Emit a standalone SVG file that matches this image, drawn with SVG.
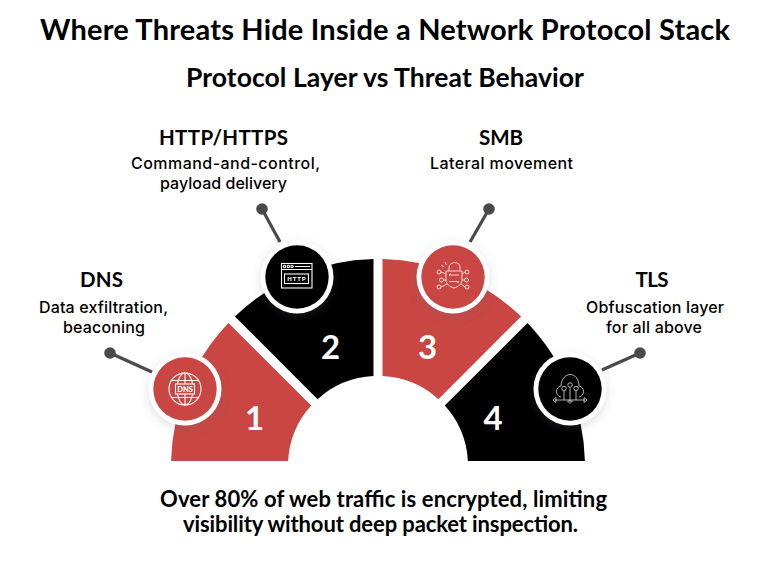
<svg xmlns="http://www.w3.org/2000/svg" width="768" height="568" viewBox="0 0 768 568">
<style>
text{font-family:"Lato","Liberation Sans",sans-serif;fill:#000;text-anchor:middle}
.title{font-size:29px;font-weight:700}
.sub{font-size:26.500px;font-weight:700}
.head{font-size:20.500px;font-weight:700}
.desc{font-family:"Inter","Lato",sans-serif;font-size:16px;font-weight:500}
.foot{font-size:22px;font-weight:700}
.num{font-size:33px;font-weight:700;fill:#fff}
.red{fill:#c94642}
.blk{fill:#000}
.ring{fill:#fff;filter:url(#sh)}
.ico{fill:none;stroke:#fff;stroke-width:1.100}
.ico2{fill:none;stroke:#f4e6e4;stroke-width:.9}
.ico3{fill:none;stroke:#ddd;stroke-width:.8}
.itx{font-size:7px;font-weight:900;fill:#fff}
#connectors line{stroke:#4a4a4a;stroke-width:3.200}
#connectors circle{fill:#4a4a4a}
</style>
<defs>
<filter id="sh" x="-30%" y="-30%" width="160%" height="160%"><feDropShadow dx="0" dy="3" stdDeviation="5" flood-color="#5a6a80" flood-opacity=".22"/></filter>
</defs>
<rect width="768" height="568" fill="#fff"/>
<text class="title" x="385" y="40" textLength="690">Where Threats Hide Inside a Network Protocol Stack</text>
<text class="sub" x="385" y="87" textLength="398">Protocol Layer vs Threat Behavior</text>
<g id="connectors">
<line x1="110" y1="353" x2="152" y2="372"/><circle cx="110" cy="353" r="5.800"/>
<line x1="262" y1="209" x2="280" y2="242"/><circle cx="262" cy="209" r="5.800"/>
<line x1="489" y1="209" x2="470" y2="242"/><circle cx="489" cy="209" r="5.800"/>
<line x1="640" y1="353" x2="602" y2="370"/><circle cx="640" cy="353" r="5.800"/>
</g>
<g id="node-dns">
<path class="red" d="M171.100 461A207 207 0 0 1 228.500 322.900L311.200 405.600A90 90 0 0 0 288.100 461Z"/>
<circle class="ring" cx="185" cy="389" r="36.500"/>
<circle class="red" cx="185" cy="389" r="31.700"/>
<g class="ico">
<circle cx="185" cy="389" r="16"/>
<ellipse cx="185" cy="389" rx="8" ry="16"/>
<path d="M185 373V405M171.500 380.500H198.500M171.500 397.500H198.500"/>
<rect x="175.500" y="384" width="19" height="10" fill="#c94642"/>
</g>
<text class="itx" x="185" y="391.900" style="font-size:7.500px">DNS</text>
<text class="num" x="254.500" y="430">1</text>
<text class="head" x="101.500" y="287" textLength="43">DNS</text>
<text class="desc" x="103.500" y="313" textLength="129">Data exfiltration,</text>
<text class="desc" x="104" y="333" textLength="82">beaconing</text>
</g>
<g id="node-http">
<path class="blk" d="M234.900 316.500A207 207 0 0 1 373.500 259V376.100A90 90 0 0 0 317.600 399.200Z"/>
<circle class="ring" cx="297" cy="277" r="36.500"/>
<circle class="blk" cx="297" cy="277" r="31.700"/>
<g class="ico">
<rect x="281.500" y="263.500" width="30.500" height="24.500"/>
<path d="M281.500 269.500H312M295 266.500H310"/>
<circle cx="284.500" cy="266.500" r="1.200"/><circle cx="288.300" cy="266.500" r="1.200"/><circle cx="292" cy="266.500" r="1.200"/>
<rect x="284.500" y="274" width="24" height="9.500"/>
</g>
<text class="itx" x="296.800" y="281.300" style="letter-spacing:.8px;font-size:6px">HTTP</text>
<text class="num" x="330.500" y="359">2</text>
<text class="head" x="223.500" y="145" textLength="129">HTTP/HTTPS</text>
<text class="desc" x="225.500" y="169" textLength="189">Command-and-control,</text>
<text class="desc" x="223.500" y="189" textLength="127">payload delivery</text>
</g>
<g id="node-smb">
<path class="red" d="M382.500 259A207 207 0 0 1 521.100 316.500L438.400 399.200A90 90 0 0 0 382.500 376.100Z"/>
<circle class="ring" cx="453" cy="277" r="36.500"/>
<circle class="red" cx="453" cy="277" r="31.700"/>
<g class="ico2">
<path d="M446 271H462V280C462 284 458 287 454 288C450 287 446 284 446 280Z"/>
<path d="M449 271V268C449 261 460 261 460 267V270"/>
<path d="M449 275H459M449 275L451 273.500M459 281.500H449M459 281.500L457 283"/>
<path d="M446 274L441 272M446 280H443.500M447 284L441 287M462 274L465 272M462 280H464.500M461 284L465 287"/>
<circle cx="439" cy="272" r="2"/><circle cx="441.500" cy="280" r="2"/><circle cx="439" cy="287" r="2"/>
<circle cx="467" cy="272" r="2"/><circle cx="466.500" cy="280" r="2"/><circle cx="467" cy="287" r="2"/>
<path d="M441 265L444 267M445 262L446.500 265"/>
</g>
<text class="num" x="427.500" y="359">3</text>
<text class="head" x="501" y="145" textLength="44">SMB</text>
<text class="desc" x="501.500" y="169" textLength="143">Lateral movement</text>
</g>
<g id="node-tls">
<path class="blk" d="M527.500 322.900A207 207 0 0 1 584.900 461H467.900A90 90 0 0 0 444.800 405.600Z"/>
<circle class="ring" cx="570" cy="389" r="36.500"/>
<circle class="blk" cx="570" cy="389" r="31.700"/>
<g class="ico3">
<path d="M561 397C555 396 555 387 561 386C561 379 566 374.500 570 374.500C575 374.500 579 379 579 386C585 387 585 396 579 397"/>
<circle cx="564" cy="388.500" r="2.200"/><circle cx="570" cy="385" r="2.200"/><circle cx="576" cy="388.500" r="2.200"/>
<path d="M564 391V400M570 387.500V401M576 391V400M555 400H585"/>
<path d="M553 400L556 397.500V402.500ZM587 400L584 397.500V402.500ZM570 403.500L567.500 401H572.500Z"/>
</g>
<text class="num" x="493" y="430">4</text>
<text class="head" x="652" y="287" textLength="33">TLS</text>
<text class="desc" x="655" y="313" textLength="138">Obfuscation layer</text>
<text class="desc" x="654" y="333" textLength="96">for all above</text>
</g>
<text class="foot" x="383.500" y="507" textLength="447">Over 80% of web traffic is encrypted, limiting</text>
<text class="foot" x="380.500" y="532" textLength="395">visibility without deep packet inspection.</text>
</svg>
